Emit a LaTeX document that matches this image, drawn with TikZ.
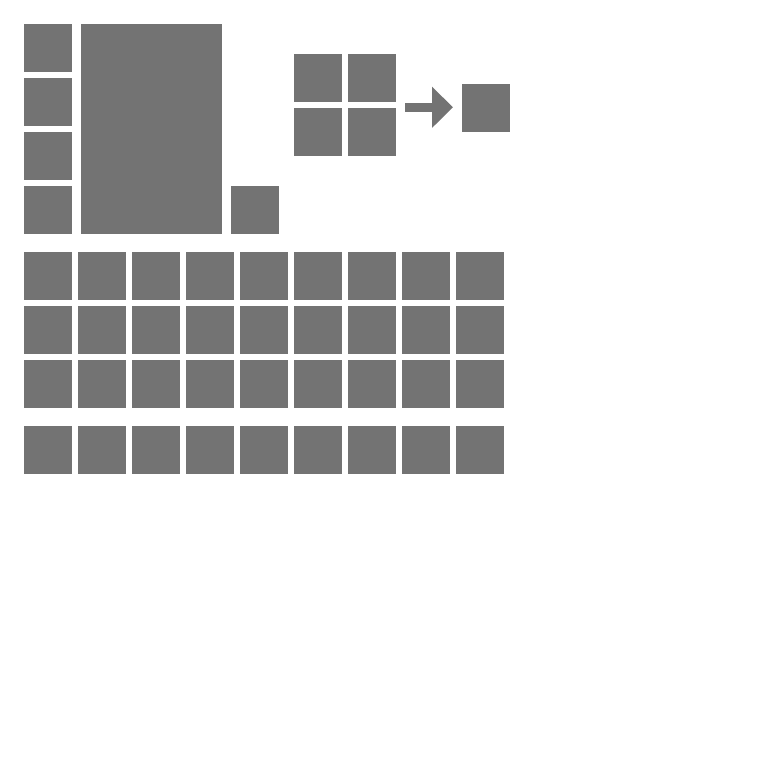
\documentclass[tikz,border=0pt]{standalone}
\usetikzlibrary{arrows.meta}
\definecolor{blockgray}{RGB}{115,115,115}
\tikzset{
  cell/.style={fill=blockgray, inner sep=0pt, minimum size=48pt, draw=none},
}
\begin{document}
\begin{tikzpicture}[x=1pt,y=-1pt]
  \useasboundingbox (0,0) rectangle (768,768);
  % left column and big block
  \foreach \i/\y in {1/48,2/102,3/156,4/210}
    \node[cell] (l\i) at (48,\y) {};
  \node[cell, minimum width=141pt, minimum height=210pt] (big) at (151.5,129) {};
  \node[cell] (small) at (255,210) {};
  % 2x2 group
  \node[cell] (q11) at (318,78) {};
  \node[cell] (q12) at (372,78) {};
  \node[cell] (q21) at (318,132) {};
  \node[cell] (q22) at (372,132) {};
  \node[cell] (res) at (486,108) {};
  \coordinate (a1) at (405,107.3);
  \coordinate (a2) at (453,107.3);
  \draw[blockgray, line width=9.5pt, -{Triangle[length=21pt,width=40pt]}] (a1) -- (a2);
  % grid
  \foreach \r/\y in {1/276,2/330,3/384,4/450}
    \foreach \c in {0,...,8}
      \node[cell] (g\r-\c) at (48+54*\c,\y) {};
\end{tikzpicture}
\end{document}
